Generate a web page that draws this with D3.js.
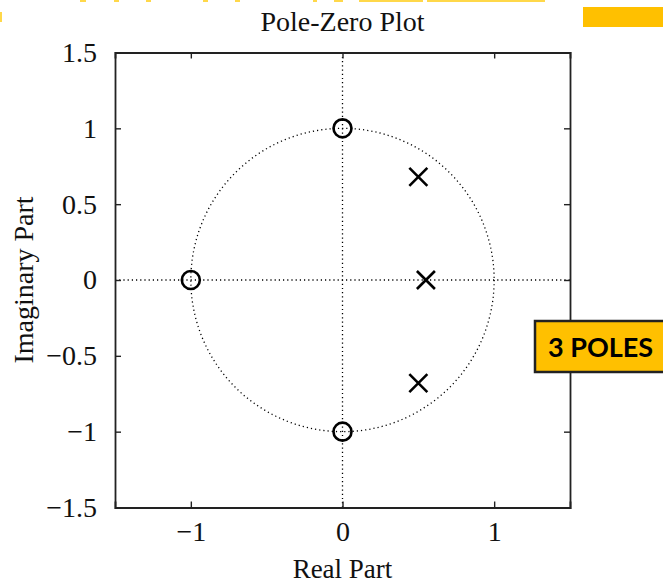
<!DOCTYPE html>
<html><head><meta charset="utf-8">
<script src="https://cdn.jsdelivr.net/npm/d3@7"></script>
<style>body{margin:0;background:#fff}svg{display:block}</style>
</head><body>
<script>
const title = "Pole-Zero Plot";
const xLabel = "Real Part";
const yLabel = "Imaginary Part";
const xTicks = [-1, 0, 1];
const yTicks = [-1.5, -1, -0.5, 0, 0.5, 1, 1.5];
const zerosRe = [0, -1, 0];
const zerosIm = [1, 0, -1];
const polesRe = [0.5, 0.55, 0.5];
const polesIm = [0.68, 0, -0.68];
const calloutText = "3 POLES";

const W = 663, H = 584;
const svg = d3.select("body").append("svg").attr("width", W).attr("height", H);

// slide decorations (yellow remnants)
const yel = "#FFC000";
svg.append("rect").attr("x", 583).attr("y", 7).attr("width", 80).attr("height", 20).attr("fill", yel);
[[80,6],[114,5],[146,5],[203,5],[235,5],[313,4],[334,9],[359,64],[427,118]].forEach(([x,w])=>{
  svg.append("rect").attr("x", x).attr("y", 0).attr("width", w).attr("height", 2).attr("fill", "#FFD84A");
});
svg.append("rect").attr("x", 0).attr("y", 12).attr("width", 2).attr("height", 10).attr("fill", "#FFD84A");

const m = {l:115, r:570, t:52.5, b:507.5};
const x = d3.scaleLinear().domain([-1.5, 1.5]).range([m.l, m.r]);
const y = d3.scaleLinear().domain([-1.5, 1.5]).range([m.b, m.t]);
const font = "'Liberation Serif','Times New Roman',serif";
const fmt = d => d < 0 ? "\u2212" + Math.abs(d) : String(d);

// dotted unit circle & axes lines
const dot = "1.2,3";
svg.append("circle").attr("cx", x(0)).attr("cy", y(0)).attr("r", x(1)-x(0))
  .attr("fill","none").attr("stroke","#000").attr("stroke-width",1.3).attr("stroke-dasharray",dot);
svg.append("line").attr("x1", x(-1.5)).attr("x2", x(1.5)).attr("y1", y(0)).attr("y2", y(0))
  .attr("stroke","#000").attr("stroke-width",1.3).attr("stroke-dasharray",dot);
svg.append("line").attr("x1", x(0)).attr("x2", x(0)).attr("y1", y(-1.5)).attr("y2", y(1.5))
  .attr("stroke","#000").attr("stroke-width",1.3).attr("stroke-dasharray",dot);

// axes
const tl = 6;
const gB = svg.append("g").attr("transform", `translate(0,${m.b})`)
  .call(d3.axisBottom(x).tickValues(xTicks).tickSize(-tl).tickPadding(14).tickFormat(fmt));
const gT = svg.append("g").attr("transform", `translate(0,${m.t})`)
  .call(d3.axisTop(x).tickValues(xTicks).tickSize(-tl).tickFormat(""));
const gL = svg.append("g").attr("transform", `translate(${m.l},0)`)
  .call(d3.axisLeft(y).tickValues(yTicks).tickSize(-tl).tickPadding(18).tickFormat(fmt));
const gR = svg.append("g").attr("transform", `translate(${m.r},0)`)
  .call(d3.axisRight(y).tickValues(yTicks).tickSize(-tl).tickFormat(""));
[gB,gT,gL,gR].forEach(g=>{
  g.select(".domain").attr("stroke","#222").attr("stroke-width",1.8);
  g.selectAll(".tick line").attr("stroke","#222").attr("stroke-width",1.4);
  g.selectAll("text").attr("font-family", font).attr("font-size", 28).attr("fill","#111");
});
gB.selectAll("text").attr("dy","0.71em");

// zeros
svg.append("g").selectAll("circle").data(zerosRe.map((r,i)=>[r, zerosIm[i]])).join("circle")
  .attr("cx", d=>x(d[0])).attr("cy", d=>y(d[1])).attr("r", 9)
  .attr("fill","none").attr("stroke","#000").attr("stroke-width",2.6);
// poles
const s = 9;
svg.append("g").selectAll("path").data(polesRe.map((r,i)=>[r, polesIm[i]])).join("path")
  .attr("d", d=>{const cx=x(d[0]), cy=y(d[1]);
    return `M${cx-s},${cy-s}L${cx+s},${cy+s}M${cx-s},${cy+s}L${cx+s},${cy-s}`;})
  .attr("stroke","#000").attr("stroke-width",2.6).attr("fill","none");

// texts
svg.append("text").attr("x", (m.l+m.r)/2).attr("y", 31).attr("text-anchor","middle")
  .attr("font-family", font).attr("font-size", 28).attr("fill","#111").text(title);
svg.append("text").attr("x", (m.l+m.r)/2).attr("y", 578).attr("text-anchor","middle")
  .attr("font-family", font).attr("font-size", 27).attr("fill","#111").text(xLabel);
svg.append("text").attr("transform", `translate(33,${(m.t+m.b)/2}) rotate(-90)`).attr("text-anchor","middle")
  .attr("font-family", font).attr("font-size", 28).attr("fill","#111").text(yLabel);

// callout
const cb = svg.append("g");
cb.append("rect").attr("x", 535).attr("y", 321).attr("width", 140).attr("height", 51)
  .attr("fill", yel).attr("stroke","#222").attr("stroke-width",2.5);
cb.append("text").attr("x", 548).attr("y", 357).attr("font-family","Lato, 'Open Sans', sans-serif")
  .attr("font-weight","bold").attr("font-size",27).attr("fill","#000").text(calloutText);
</script>
</body></html>
